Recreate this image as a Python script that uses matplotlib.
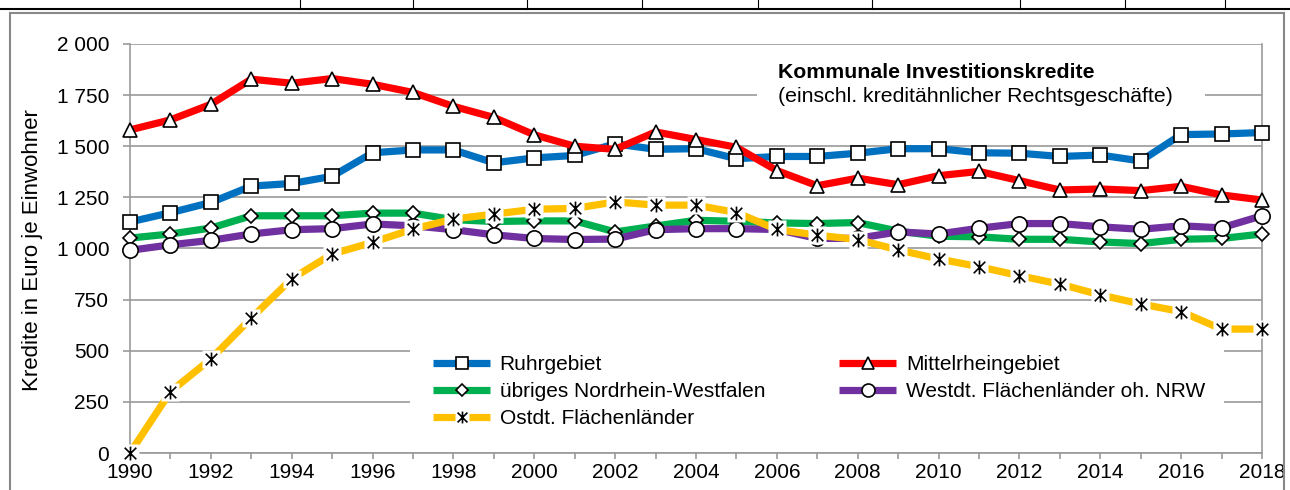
import matplotlib
matplotlib.use("Agg")
import matplotlib.pyplot as plt
from matplotlib.path import Path
from matplotlib.patches import Rectangle
from matplotlib.lines import Line2D

plt.rcParams["font.family"] = ["Liberation Sans", "DejaVu Sans"]

# data (Euro je Einwohner)
years = list(range(1990, 2019))
ruhr = [1130, 1175, 1225, 1305, 1318, 1353, 1468, 1482, 1482, 1419,
        1443, 1455, 1512, 1485, 1488, 1439, 1450, 1450, 1466, 1488,
        1488, 1468, 1466, 1450, 1457, 1428, 1557, 1560, 1567]
mittelrhein = [1580, 1629, 1705, 1828, 1808, 1831, 1803, 1763, 1695, 1641,
               1556, 1500, 1485, 1570, 1533, 1495, 1381, 1307, 1344, 1312,
               1356, 1377, 1332, 1286, 1291, 1283, 1304, 1262, 1237]
nrw_rest = [1051, 1071, 1100, 1160, 1160, 1160, 1173, 1173, 1141, 1132,
            1135, 1135, 1081, 1110, 1138, 1133, 1125, 1122, 1127, 1085,
            1060, 1057, 1045, 1045, 1032, 1024, 1045, 1049, 1071]
westdt = [991, 1018, 1040, 1071, 1092, 1097, 1120, 1111, 1092, 1067,
          1049, 1044, 1046, 1092, 1097, 1097, 1093, 1049, 1050, 1081,
          1071, 1099, 1122, 1122, 1106, 1094, 1111, 1101, 1160]
ostdt = [0, 300, 460, 660, 852, 973, 1030, 1095, 1144, 1168,
         1192, 1196, 1228, 1212, 1212, 1176, 1093, 1065, 1044, 993,
         949, 911, 867, 826, 773, 729, 691, 606, 606]
yticks = [0, 250, 500, 750, 1000, 1250, 1500, 1750, 2000]

W, H = 1290, 490
fig = plt.figure(figsize=(12.9, 4.9), dpi=100)
ax = fig.add_axes([130 / W, 1 - 453 / H, 1132 / W, 409 / H])

grey = "#999999"
lw = 5.2

# excel-like star marker: x plus vertical bar
star = Path([(-1, -1), (1, 1), (-1, 1), (1, -1), (0, -1.2), (0, 1.2)],
            [Path.MOVETO, Path.LINETO, Path.MOVETO, Path.LINETO, Path.MOVETO, Path.LINETO])

common = dict(lw=lw, mfc="white", mec="black", mew=1.2, clip_on=False, zorder=3,
              solid_capstyle="butt")
h_ruhr, = ax.plot(years, ruhr, color="#0070C0", marker="s", ms=10, **common)
h_mr, = ax.plot(years, mittelrhein, color="#FF0000", marker="^", ms=10.5, **common)
h_nrw, = ax.plot(years, nrw_rest, color="#00B050", marker="D", ms=7.5, **common)
h_west, = ax.plot(years, westdt, color="#7030A0", marker="o", ms=11, **common)
h_ost1, = ax.plot(years, ostdt, color="#FFC000", lw=lw, marker="s", ms=12.5, mfc="white",
                  mec="none", clip_on=False, zorder=3, solid_capstyle="butt")
h_ost2, = ax.plot(years, ostdt, ls="none", marker=star, ms=10, mec="black", mew=1.2,
                  clip_on=False, zorder=4)

ax.set_xlim(1990, 2018)
ax.set_ylim(0, 2000)
ax.set_xticks(years)
ax.set_xticklabels([str(y) if y % 2 == 0 else "" for y in years])
ax.set_yticks(yticks)
ax.set_yticklabels([f"{v:,}".replace(",", " ") for v in yticks])
ax.tick_params(axis="x", length=4, color=grey, width=1.2, pad=3, labelsize=15)
ax.tick_params(axis="y", length=5, color=grey, width=1.2, pad=10, labelsize=15)
ax.yaxis.grid(True, color=grey, lw=1.2, zorder=0)
ax.set_axisbelow(True)
for s in ax.spines.values():
    s.set_color(grey)
    s.set_linewidth(1.2)
ax.spines["top"].set_visible(False)

fig.text(33 / W, 1 - 250 / H, "Kredite in Euro je Einwohner", rotation=90,
         ha="center", va="center", fontsize=16)

# title block with white background (hides the grid line)
ax.add_patch(Rectangle(((757 - 130) / 1132, (453 - 110) / 409), (1205 - 757) / 1132, 55 / 409,
                       transform=ax.transAxes, facecolor="white", edgecolor="none", zorder=1))
ax.text((778 - 130) / 1132, (453 - 72) / 409, "Kommunale Investitionskredite",
        transform=ax.transAxes, fontsize=15.3, fontweight="bold", va="center", ha="left", zorder=2)
ax.text((778 - 130) / 1132, (453 - 96) / 409, "(einschl. kreditähnlicher Rechtsgeschäfte)",
        transform=ax.transAxes, fontsize=15.3, va="center", ha="left", zorder=2)

# legend area
ax.add_patch(Rectangle(((410 - 130) / 1132, (453 - 440) / 409), (1224 - 410) / 1132, 100 / 409,
                       transform=ax.transAxes, facecolor="white", edgecolor="none", zorder=1))
handles = [h_ruhr, h_nrw, (h_ost1, h_ost2), h_mr, h_west]
labels = ["Ruhrgebiet", "übriges Nordrhein-Westfalen", "Ostdt. Flächenländer",
          "Mittelrheingebiet", "Westdt. Flächenländer oh. NRW"]
leg = ax.legend(handles, labels, ncol=2, loc="upper left",
                bbox_to_anchor=((433 - 130) / 1132, (453 - 355) / 409),
                frameon=False, fontsize=15, handlelength=2.75, handletextpad=0.45,
                columnspacing=3.55, labelspacing=0.38, borderaxespad=0, borderpad=0,
                markerscale=0.85)

# surrounding frame and table line above the chart
fig.add_artist(Rectangle((10 / W, -0.02), 1274 / W, 1 - 13 / H + 0.02, transform=fig.transFigure,
                         facecolor="none", edgecolor="#888888", lw=1.5))
fig.add_artist(Line2D([0, 1], [1 - 9 / H, 1 - 9 / H], transform=fig.transFigure,
                      color="black", lw=1.5))
for xs in [300, 413, 527, 642, 758, 872, 1020, 1125, 1225]:
    fig.add_artist(Line2D([xs / W, xs / W], [1 - 9 / H, 1], transform=fig.transFigure,
                          color="black", lw=0.8))

fig.savefig("out.png", dpi=100, facecolor="white")
